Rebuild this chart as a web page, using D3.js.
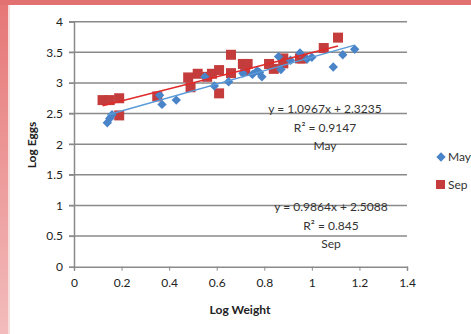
<!DOCTYPE html>
<html>
<head>
<meta charset="utf-8">
<script src="https://cdn.jsdelivr.net/npm/d3@7/dist/d3.min.js"></script>
<style>
  body { margin: 0; background: #fff; }
  svg { display: block; font-family: Lato, "Liberation Sans", sans-serif; }
</style>
</head>
<body>
<svg width="471" height="334"></svg>
<script>
// values
var mayPts = [[0.14,2.35],[0.15,2.42],[0.16,2.48],[0.36,2.80],[0.37,2.65],[0.43,2.72],[0.55,3.10],
  [0.59,2.95],[0.65,3.02],[0.71,3.16],[0.75,3.14],[0.77,3.20],[0.78,3.17],[0.79,3.10],[0.86,3.43],
  [0.87,3.22],[0.91,3.37],[0.95,3.49],[0.98,3.39],[1.00,3.42],[1.09,3.26],[1.13,3.46],[1.18,3.55]];
var sepPts = [[0.12,2.72],[0.15,2.72],[0.19,2.75],[0.19,2.47],[0.35,2.78],[0.48,3.09],[0.49,2.93],
  [0.52,3.15],[0.56,3.10],[0.58,3.15],[0.61,2.83],[0.61,3.21],[0.66,3.46],[0.66,3.16],[0.71,3.31],
  [0.73,3.31],[0.72,3.20],[0.82,3.31],[0.84,3.23],[0.88,3.40],[0.88,3.32],[0.95,3.40],[0.96,3.40],
  [1.05,3.57],[1.11,3.74]];
var mayFit = {m: 1.0967, b: 2.3235, label: ["y = 1.0967x + 2.3235", "R² = 0.9147", "May"]};
var sepFit = {m: 0.9864, b: 2.5088, label: ["y = 0.9864x + 2.5088", "R² = 0.845", "Sep"]};
var xTicks = [0, 0.2, 0.4, 0.6, 0.8, 1, 1.2, 1.4];
var yTicks = [0, 0.5, 1, 1.5, 2, 2.5, 3, 3.5, 4];

var svg = d3.select("svg");

// frame
var grad = svg.append("defs").append("linearGradient").attr("id", "lg")
  .attr("x1", 0).attr("y1", 0).attr("x2", 0).attr("y2", 1);
grad.append("stop").attr("offset", "0%").attr("stop-color", "#e67676");
grad.append("stop").attr("offset", "100%").attr("stop-color", "#f3bcbc");
svg.append("rect").attr("x", 0).attr("y", 0).attr("width", 8).attr("height", 334).attr("fill", "url(#lg)");
svg.append("rect").attr("x", 0).attr("y", 0).attr("width", 471).attr("height", 5).attr("fill", "#e27272");
svg.append("rect").attr("x", 8).attr("y", 5).attr("width", 2).attr("height", 329).attr("fill", "#f7dede");

var x = d3.scaleLinear().domain([0, 1.4]).range([74, 407]);
var y = d3.scaleLinear().domain([0, 4]).range([266.7, 21.7]);

// grid
svg.append("g").selectAll("line").data(yTicks.slice(1)).enter().append("line")
  .attr("x1", 69).attr("x2", 407)
  .attr("y1", function(d) { return y(d); }).attr("y2", function(d) { return y(d); })
  .attr("stroke", "#8a8a8a").attr("stroke-width", 1.5);

var ax = svg.append("g").attr("transform", "translate(0," + y(0) + ")")
  .call(d3.axisBottom(x).tickValues(xTicks).tickFormat(d3.format("")).tickSize(4).tickPadding(8));
var ay = svg.append("g").attr("transform", "translate(" + x(0) + ",0)")
  .call(d3.axisLeft(y).tickValues(yTicks).tickFormat(d3.format("")).tickSize(5).tickPadding(6));
[ax, ay].forEach(function(a) {
  a.select(".domain").attr("stroke", "#8a8a8a").attr("stroke-width", 1.5);
  a.selectAll(".tick line").attr("stroke", "#8a8a8a");
  a.selectAll("text").attr("fill", "#222").style("font-size", "12px").style("font-family", "Lato, sans-serif");
});

svg.append("text").attr("x", 240).attr("y", 314).attr("text-anchor", "middle")
  .style("font-size", "12px").style("font-weight", "bold").attr("fill", "#222").text("Log Weight");
svg.append("text").attr("transform", "translate(36,145) rotate(-90)").attr("text-anchor", "middle")
  .style("font-size", "12px").style("font-weight", "bold").attr("fill", "#222").text("Log Eggs");

// markers
svg.append("g").selectAll("rect").data(sepPts).enter().append("rect")
  .attr("x", function(d) { return x(d[0]) - 5; }).attr("y", function(d) { return y(d[1]) - 5; })
  .attr("width", 10).attr("height", 10).attr("fill", "#c43c3c");
var diamond = d3.symbol().type(d3.symbolDiamond2).size(56);
svg.append("g").selectAll("path").data(mayPts).enter().append("path")
  .attr("d", diamond)
  .attr("transform", function(d) { return "translate(" + x(d[0]) + "," + y(d[1]) + ")"; })
  .attr("fill", "#4a84c8");

// trend lines
function trend(pts, fit, col) {
  var ext = d3.extent(pts, function(d) { return d[0]; });
  svg.append("line")
    .attr("x1", x(ext[0])).attr("y1", y(fit.m * ext[0] + fit.b))
    .attr("x2", x(ext[1])).attr("y2", y(fit.m * ext[1] + fit.b))
    .attr("stroke", col).attr("stroke-width", 1.5);
}
trend(sepPts, sepFit, "#e02a2a");
trend(mayPts, mayFit, "#5a9ad8");

function eq(fit, cx, cy) {
  svg.append("g").selectAll("text").data(fit.label).enter().append("text")
    .attr("x", cx).attr("y", function(d, i) { return cy + i * 18.5; })
    .attr("text-anchor", "middle").style("font-size", "12px").attr("fill", "#333")
    .text(function(d) { return d; });
}
eq(mayFit, 325, 113);
eq(sepFit, 331, 211);

// legend
var leg = svg.append("g");
leg.append("path").attr("d", diamond).attr("transform", "translate(441,157)").attr("fill", "#4a84c8");
leg.append("text").attr("x", 448).attr("y", 161).style("font-size", "12px").attr("fill", "#333").text("May");
leg.append("rect").attr("x", 436).attr("y", 180).attr("width", 9).attr("height", 9).attr("fill", "#c43c3c");
leg.append("text").attr("x", 448).attr("y", 189).style("font-size", "12px").attr("fill", "#333").text("Sep");
</script>
</body>
</html>
